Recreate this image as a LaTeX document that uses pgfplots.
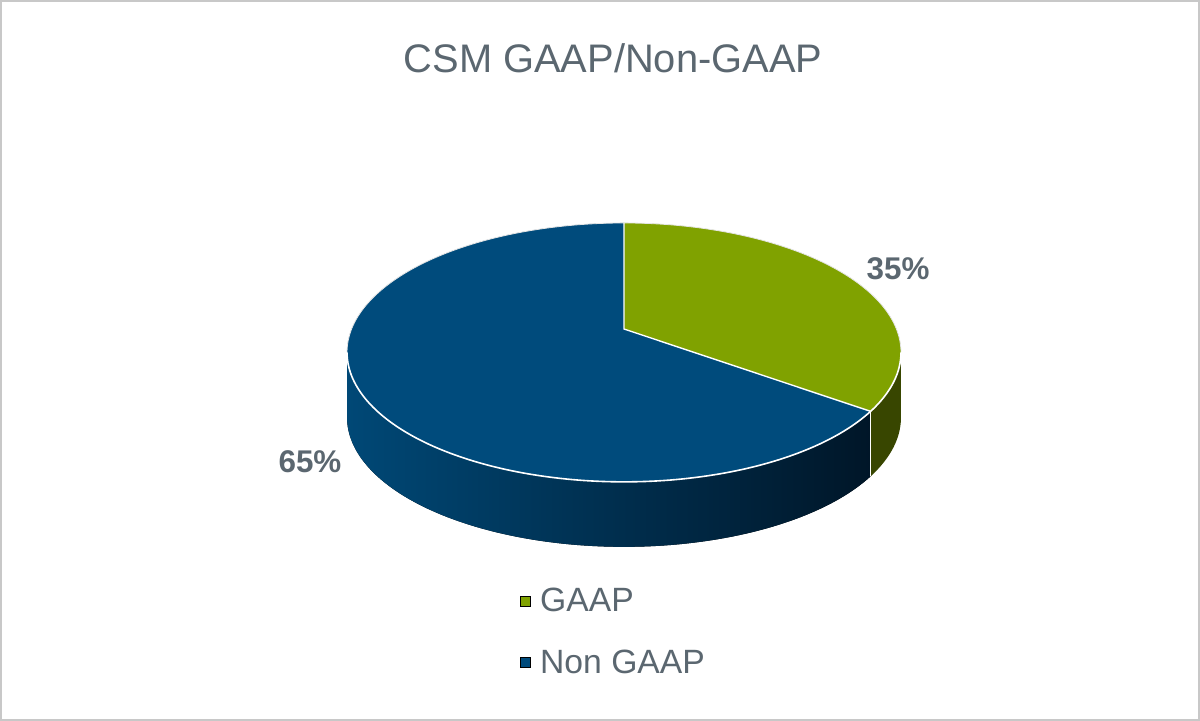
\documentclass[border=0pt]{standalone}
\usepackage{pgfplots}
\pgfplotsset{compat=1.18}
\usepackage{pgfplotstable}
\usepgfplotslibrary{fillbetween}
\usepackage{fontspec}
\setmainfont{Liberation Sans}
\definecolor{gGreen}{RGB}{128,162,0}
\definecolor{gGreenSide}{RGB}{56,70,0}
\definecolor{gBlue}{RGB}{0,75,124}
\definecolor{gBlueL}{RGB}{0,72,118}
\definecolor{gBlueR}{RGB}{0,22,40}
\definecolor{txt}{RGB}{91,103,112}
\definecolor{frame}{RGB}{200,200,200}
\pgfplotstableread{
label value
GAAP 35
NonGAAP 65
}\piedata
\pgfmathdeclarefunction{px}{1}{\pgfmathparse{624+272.4*cos(#1)/(1+0.181*sin(#1))}}
\pgfmathdeclarefunction{py}{1}{\pgfmathparse{329-125.2*sin(#1)/(1+0.181*sin(#1))}}
\begin{document}
\begin{tikzpicture}
\pgfplotstablegetelem{0}{value}\of\piedata
\let\vA\pgfplotsretval
\pgfplotstablegetelem{1}{value}\of\piedata
\let\vB\pgfplotsretval
\pgfmathsetmacro\dv{90-3.6*\vA}
\pgfmathsetmacro\ex{asin(0.181)}
\pgfmathsetmacro\rl{-180+\ex}
\pgfmathsetmacro\rr{-\ex}
\pgfmathsetmacro\dx{px(\dv)}
\pgfmathsetmacro\dy{py(\dv)}
\pgfmathsetmacro\dyb{\dy+65}
\pgfmathsetmacro\tx{px(90)}
\pgfmathsetmacro\ty{py(90)}
\begin{axis}[scale only axis, width=600bp, height=360.5bp,
  xmin=0, xmax=1200, ymin=0, ymax=721, y dir=reverse,
  hide axis, clip=false,
  legend style={at={(axis cs:514,632)}, anchor=west, draw=none, fill=none,
    font=\fontsize{16.9}{20}\selectfont, text=txt,
    nodes={inner sep=0pt}, row sep=17.5bp,
    /tikz/every odd column/.append style={column sep=4.5bp}},
  legend cell align=left,
  legend image code/.code={\fill[#1] (0bp,-2.5bp) rectangle (5bp,2.5bp);}]
% sides
\addplot[name path=bt, draw=none, domain=\rl:\dv, samples=100, variable=\t, forget plot] ({px(\t)},{py(\t)});
\addplot[name path=bb, draw=none, domain=\rl:\dv, samples=100, variable=\t, forget plot] ({px(\t)},{py(\t)+65});
\addplot[left color=gBlueL, right color=gBlueR, draw=none, forget plot] fill between[of=bt and bb];
\addplot[name path=gt, draw=none, domain=\dv:\rr, samples=40, variable=\t, forget plot] ({px(\t)},{py(\t)});
\addplot[name path=gb, draw=none, domain=\dv:\rr, samples=40, variable=\t, forget plot] ({px(\t)},{py(\t)+65});
\addplot[fill=gGreenSide, draw=none, forget plot] fill between[of=gt and gb];
% top faces
\addplot[fill=gGreen, draw=none, domain=\dv:90, samples=120, variable=\t, forget plot] ({px(\t)},{py(\t)}) -- (axis cs:624,329) -- cycle;
\addplot[fill=gBlue, draw=none, domain=-270:\dv, samples=200, variable=\t, forget plot] ({px(\t)},{py(\t)}) -- (axis cs:624,329) -- cycle;
% white edges
\addplot[white!80!gray, line width=0.4bp, domain=\rr:180+\ex, samples=150, variable=\t, forget plot] ({px(\t)},{py(\t)});
\addplot[white, line width=0.8bp, domain=\rl:\rr, samples=150, variable=\t, forget plot] ({px(\t)},{py(\t)});
\addplot[white, line width=0.7bp, forget plot] coordinates {(\tx,\ty) (624,329) (\dx,\dy)};
\addplot[white, line width=0.6bp, forget plot] coordinates {(\dx,\dy) (\dx,\dyb)};
% legend
\addlegendimage{fill=gGreen}
\addlegendentry{GAAP}
\addlegendimage{fill=gBlue}
\addlegendentry{Non GAAP}
% labels
\node[font=\bfseries\fontsize{15.75}{18}\selectfont, text=txt] at (axis cs:898,269) {\vA\%};
\node[font=\bfseries\fontsize{15.75}{18}\selectfont, text=txt] at (axis cs:310,462) {\vB\%};
\node[font=\fontsize{20}{24}\selectfont, text=txt, anchor=base] at (axis cs:613,73) {CSM GAAP/Non-GAAP};
\draw[frame, line width=1bp] (axis cs:1,1) rectangle (axis cs:1199,720);
\end{axis}
\pgfresetboundingbox
\path[use as bounding box] (current axis.south west) rectangle (current axis.north east);
\end{tikzpicture}
\end{document}
